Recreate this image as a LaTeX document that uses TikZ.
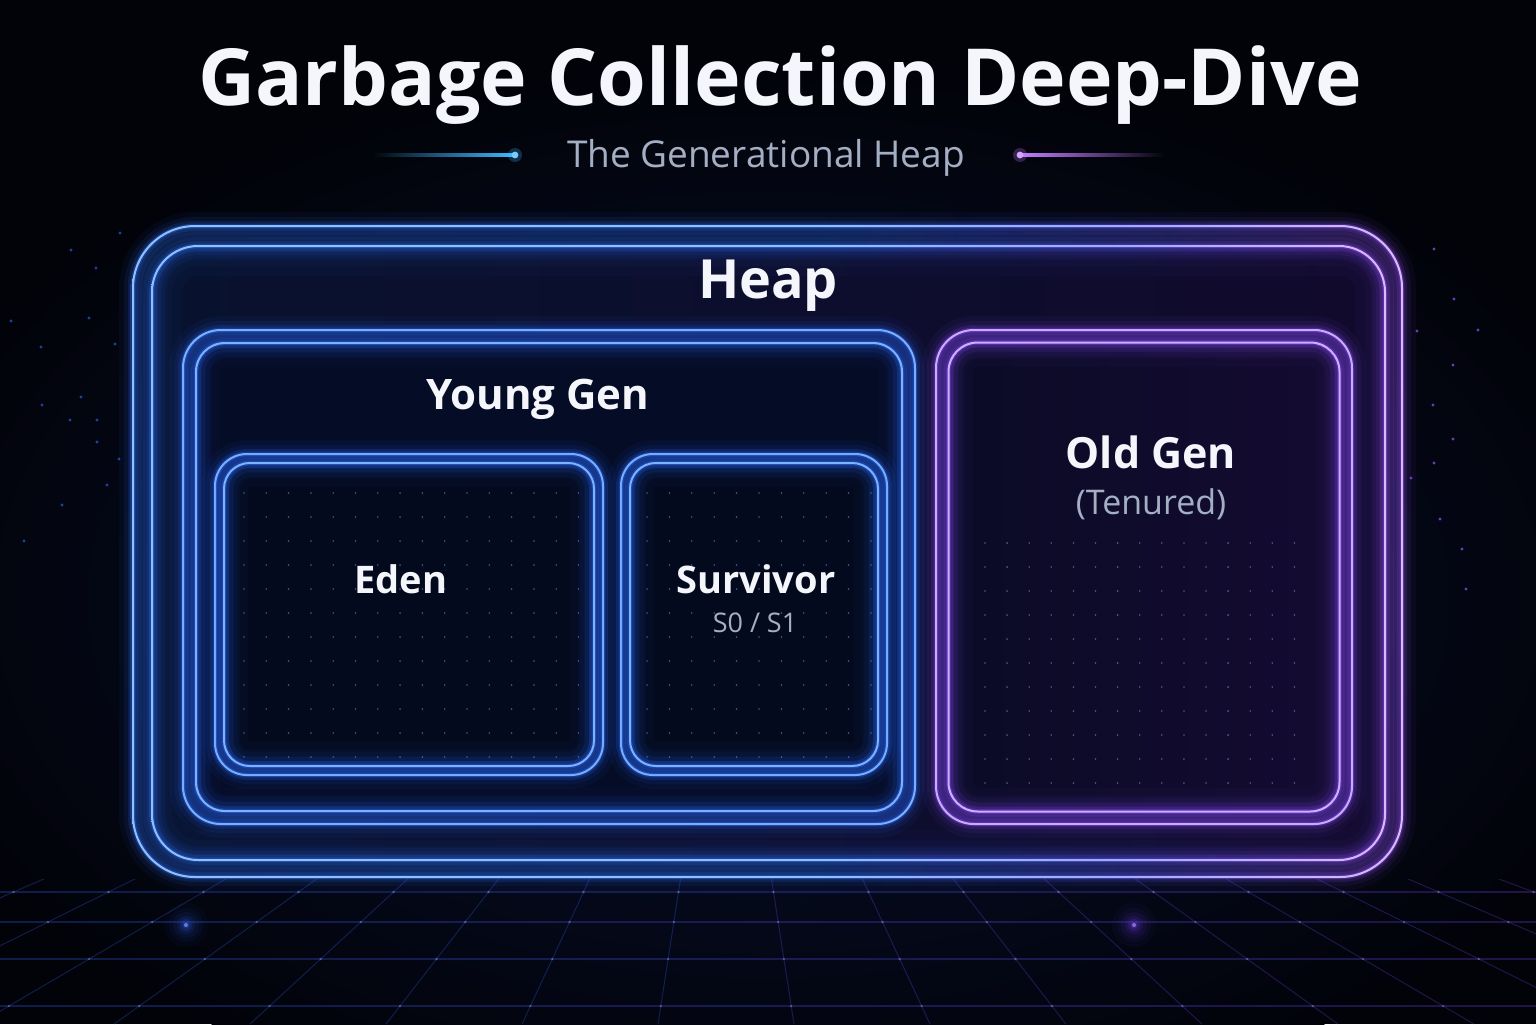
\documentclass[tikz,border=0pt]{standalone}
\usepackage{fontspec}
\setmainfont{Open Sans}
\definecolor{bg}{HTML}{020309}
\definecolor{haze}{HTML}{071030}
\definecolor{hblue}{HTML}{2F72FF}
\definecolor{hmid}{HTML}{5C5CFF}
\definecolor{hpurp}{HTML}{9A52FF}
\definecolor{hblueL}{HTML}{8CC0FF}
\definecolor{hmidL}{HTML}{A6A8FF}
\definecolor{hpurpL}{HTML}{DDB8FF}
\definecolor{yglow}{HTML}{2A6BFF}
\definecolor{yline}{HTML}{7CB2FF}
\definecolor{oglow}{HTML}{8A4DFF}
\definecolor{oline}{HTML}{CFAEFF}
\definecolor{heapinL}{HTML}{08122F}
\definecolor{heapinR}{HTML}{110A2C}
\definecolor{youngin}{HTML}{050C26}
\definecolor{edenin}{HTML}{040A1D}
\definecolor{oldinL}{HTML}{0B0B26}
\definecolor{oldinR}{HTML}{140B31}
\definecolor{textw}{HTML}{F4F6FB}
\definecolor{textg}{HTML}{A4AFC4}
\definecolor{gblue}{HTML}{2B5BE0}
\definecolor{gpurp}{HTML}{6A3CE0}
\definecolor{cyanL}{HTML}{3DB8FF}
\definecolor{pinkL}{HTML}{C27BFF}
\pgfdeclarehorizontalshading{heapgrad}{100bp}{color(0bp)=(hblue); color(25bp)=(hblue); color(52bp)=(hblue); color(64bp)=(hmid); color(75bp)=(hpurp); color(100bp)=(hpurp)}
\pgfdeclarehorizontalshading{heapgradL}{100bp}{color(0bp)=(hblueL); color(25bp)=(hblueL); color(52bp)=(hblueL); color(64bp)=(hmidL); color(75bp)=(hpurpL); color(100bp)=(hpurpL)}
% ring of half width #7 around the rounded rectangle (#2,#3)-(#4,#5) of radius #6
\newcommand\glowring[7]{%
  \path[#1, even odd rule, rounded corners={(#6+#7)*0.5pt}]
    ({#2-#7},{#3-#7}) rectangle ({#4+#7},{#5+#7})
    [rounded corners={(#6-#7)*0.5pt}]
    ({#2+#7},{#3+#7}) rectangle ({#4-#7},{#5-#7});}
\newcommand\neonline[7]{%
  \glowring{fill=#1, fill opacity=0.05}{#3}{#4}{#5}{#6}{#7}{14}%
  \glowring{fill=#1, fill opacity=0.08}{#3}{#4}{#5}{#6}{#7}{9}%
  \glowring{fill=#1, fill opacity=0.14}{#3}{#4}{#5}{#6}{#7}{5}%
  \glowring{fill=#1, fill opacity=0.3}{#3}{#4}{#5}{#6}{#7}{2.4}%
  \glowring{fill=#2}{#3}{#4}{#5}{#6}{#7}{1}}
\newcommand\neonlinegrad[5]{%
  \glowring{shade, shading=heapgrad, fill opacity=0.05}{#1}{#2}{#3}{#4}{#5}{14}%
  \glowring{shade, shading=heapgrad, fill opacity=0.08}{#1}{#2}{#3}{#4}{#5}{9}%
  \glowring{shade, shading=heapgrad, fill opacity=0.14}{#1}{#2}{#3}{#4}{#5}{5}%
  \glowring{shade, shading=heapgrad, fill opacity=0.3}{#1}{#2}{#3}{#4}{#5}{2.4}%
  \glowring{shade, shading=heapgradL}{#1}{#2}{#3}{#4}{#5}{1}}
% #1 glow, #2 line, #3 interior style, #4..#7 outer box, #8 radius, #9 inset
\newcommand\neonbox[9]{%
  \fill[#1, fill opacity=0.2, rounded corners={#8*0.5pt}] (#4,#5) rectangle (#6,#7);
  \path[#3, rounded corners={(#8-0.7*#9)*0.5pt}] ({#4+#9},{#5+#9}) rectangle ({#6-#9},{#7-#9});
  \begin{scope}
    \clip[rounded corners={(#8-0.7*#9)*0.5pt}] ({#4+#9},{#5+#9}) rectangle ({#6-#9},{#7-#9});
    \glowring{fill=#1, fill opacity=0.03}{#4+#9}{#5+#9}{#6-#9}{#7-#9}{#8-0.7*#9}{24}%
    \glowring{fill=#1, fill opacity=0.04}{#4+#9}{#5+#9}{#6-#9}{#7-#9}{#8-0.7*#9}{16}%
    \glowring{fill=#1, fill opacity=0.05}{#4+#9}{#5+#9}{#6-#9}{#7-#9}{#8-0.7*#9}{10}%
    \glowring{fill=#1, fill opacity=0.07}{#4+#9}{#5+#9}{#6-#9}{#7-#9}{#8-0.7*#9}{5}%
  \end{scope}
  \neonline{#1}{#2}{#4}{#5}{#6}{#7}{#8}%
  \neonline{#1}{#2}{#4+#9}{#5+#9}{#6-#9}{#7-#9}{#8-0.7*#9}}
\tikzset{
  titlefont/.style={font=\bfseries\fontsize{39.4}{42}\selectfont, text=textw},
  boxlabel/.style={font=\bfseries\fontsize{#1}{#1}\selectfont, text=textw, anchor=base, inner sep=0pt},
  sublabel/.style={font=\fontsize{#1}{#1}\selectfont, text=textg, anchor=base, inner sep=0pt},
  gridline/.style={draw=#1, line width=0.5pt, opacity=0.3},
  stardot/.style={fill=#1, opacity=0.7},
}
\begin{document}
\begin{tikzpicture}[x=0.5pt,y=-0.5pt]
\useasboundingbox (0,0) rectangle (1536,1024);
\fill[bg] (0,0) rectangle (1536,1024);
\shade[inner color=haze, outer color=bg] (768,600) ellipse (900 and 540);

% floor grid
\begin{scope}
  \clip (0,879) rectangle (1536,1024);
  \foreach \k in {-9,...,-1} {\draw[gridline=gblue] (726,586) -- ({726+(\k+0.5)*438/306*95},1024);}
  \foreach \k in {0,...,8} {\draw[gridline=gpurp] (726,586) -- ({726+(\k+0.5)*438/306*95},1024);}
  \foreach \yy in {892,922,959,1006} {
    \shade[left color=gblue, right color=gpurp, fill opacity=0.3] (0,{\yy-0.6}) rectangle (1536,{\yy+0.6});
    \foreach \k in {-9,...,8} {\fill[white, opacity=0.25] ({726+(\k+0.5)*(\yy-586)/306*95},\yy) circle (1.3);}
  }
\end{scope}
% floor flares
\foreach \px/\py/\c in {186/925/gblue, 1134/925/gpurp} {
  \foreach \rr/\op in {22/0.04, 17/0.06, 13/0.08, 9/0.12, 6/0.18, 3.5/0.3} {
    \fill[\c, opacity=\op] (\px,\py) circle (\rr);}
  \fill[\c!50!white, opacity=0.6] (\px,\py) circle (2);
}
% background stars
\foreach \sx/\sy in {120/233,71/250,96/268,11/321,89/318,41/347,115/344,81/397,70/420,97/420,97/442,119/459,107/485,62/505,24/541,42/405} {
  \fill[stardot=gblue] (\sx,\sy) circle (1.6);}
\foreach \sx/\sy in {1434/249,1454/299,1478/330,1453/365,1433/405,1453/439,1434/463,1417/331,1411/478,1462/549,1466/589,1440/519} {
  \fill[stardot=hpurp] (\sx,\sy) circle (1.6);}

% title and subtitle
\node[titlefont, anchor=base, inner sep=0pt] (title) at (780,105) {Garbage Collection Deep-Dive};
\node[sublabel=18.5] (subtitle) at (766,167) {The Generational Heap};
\coordinate (ldot) at (515,155);
\coordinate (rdot) at (1020,155);
\shade[left color=bg, right color=cyanL] (372,153.8) rectangle (513,156.2);
\shade[left color=pinkL, right color=bg] (1022,153.8) rectangle (1165,156.2);
\fill[cyanL, opacity=0.25] (ldot) circle (7);
\fill[cyanL!70!white] (ldot) circle (3.4);
\fill[pinkL, opacity=0.25] (rdot) circle (7);
\fill[pinkL!70!white] (rdot) circle (3.4);

% heap
\path[shade, shading=heapgrad, fill opacity=0.2, rounded corners=31pt] (133,226) rectangle (1402,877);
\path[left color=heapinL, right color=heapinR, rounded corners=23pt] (152,246) rectangle (1385,860);
\begin{scope}
  \clip[rounded corners=23pt] (152,246) rectangle (1385,860);
  \glowring{shade, shading=heapgrad, fill opacity=0.03}{152}{246}{1385}{860}{46}{30}
  \glowring{shade, shading=heapgrad, fill opacity=0.04}{152}{246}{1385}{860}{46}{20}
  \glowring{shade, shading=heapgrad, fill opacity=0.05}{152}{246}{1385}{860}{46}{12}
  \glowring{shade, shading=heapgrad, fill opacity=0.07}{152}{246}{1385}{860}{46}{6}
\end{scope}
\neonlinegrad{133}{226}{1402}{877}{62}
\neonlinegrad{152}{246}{1385}{860}{46}

% young gen, eden, survivor, old gen
\neonbox{yglow}{yline}{fill=youngin}{183}{330}{915}{824}{38}{13}
\neonbox{yglow}{yline}{fill=edenin}{215}{454}{603}{775}{32}{9}
\neonbox{yglow}{yline}{fill=edenin}{621}{454}{887}{775}{32}{9}
\neonbox{oglow}{oline}{left color=oldinL, right color=oldinR}{936}{330}{1352}{824}{38}{12.5}

% dot grids
\foreach \i in {0,...,15} {\foreach \j in {0,...,11} {
  \fill[yglow!70!white, opacity=0.55] ({244+\i*22.3},{493+\j*24}) circle (0.9);}}
\foreach \i in {0,...,10} {\foreach \j in {0,...,11} {
  \fill[yglow!70!white, opacity=0.55] ({647+\i*22.4},{493+\j*24}) circle (0.9);}}
\foreach \i in {0,...,14} {\foreach \j in {0,...,10} {
  \fill[oglow!70!white, opacity=0.55] ({985+\i*22.1},{543+\j*24}) circle (0.9);}}

% labels
\node[boxlabel=27] (heapLbl) at (768,298) {Heap};
\node[boxlabel=21] (youngLbl) at (538,409) {Young Gen};
\node[boxlabel=19] (edenLbl) at (401,593) {Eden};
\node[boxlabel=19] (survLbl) at (756,593) {Survivor};
\node[sublabel=13.5] (survSub) at (755,632) {S0 / S1};
\node[boxlabel=21.5] (oldLbl) at (1151,468) {Old Gen};
\node[sublabel=17] (oldSub) at (1151,514) {(Tenured)};
\end{tikzpicture}
\end{document}
